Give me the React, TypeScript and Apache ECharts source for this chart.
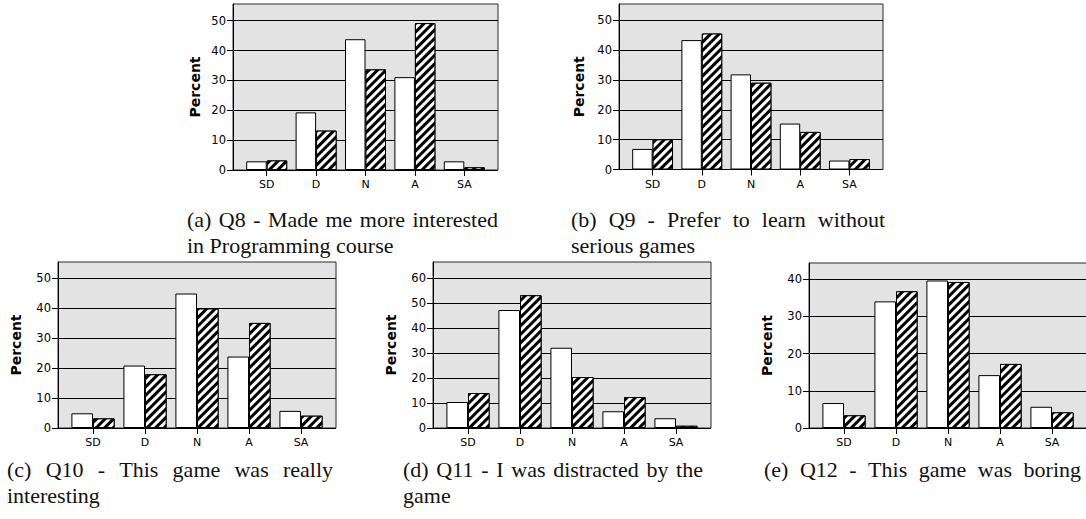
import React, { useEffect, useRef } from "react";
import * as echarts from "echarts";

// ---------- data ----------
const categories = ["SD", "D", "N", "A", "SA"];

const plainQ8 = [2.9, 19.3, 43.8, 31.1, 2.9];
const hatchQ8 = [3.2, 13.2, 33.7, 49.2, 0.9];
const plainQ9 = [6.9, 43.4, 31.9, 15.4, 3.0];
const hatchQ9 = [10.1, 45.6, 29.1, 12.6, 3.5];
const plainQ10 = [4.9, 20.8, 44.8, 23.8, 5.7];
const hatchQ10 = [3.2, 17.9, 39.8, 35.0, 4.1];
const plainQ11 = [10.4, 47.2, 32.1, 6.7, 3.9];
const hatchQ11 = [14.0, 53.1, 20.4, 12.4, 0.9];
const plainQ12 = [6.7, 34.0, 39.6, 14.2, 5.7];
const hatchQ12 = [3.4, 36.7, 39.2, 17.2, 4.2];

const ticks50 = [0, 10, 20, 30, 40, 50];
const ticks60 = [0, 10, 20, 30, 40, 50, 60];
const ticks40 = [0, 10, 20, 30, 40];

const captionA = ["(a) Q8 - Made me more interested", "in Programming course"];
const captionB = ["(b) Q9 - Prefer to learn without", "serious games"];
const captionC = ["(c) Q10 - This game was really", "interesting"];
const captionD = ["(d) Q11 - I was distracted by the", "game"];
const captionE = ["(e) Q12 - This game was boring"];

// ---------- layout ----------
const panels = [
  { plain: plainQ8, hatch: hatchQ8, ticks: ticks50, max: 55.6, left: 233, top: 4, width: 265, height: 166, nameGap: 31, caption: captionA, capLeft: 187, capRight: 498, capY: 219 },
  { plain: plainQ9, hatch: hatchQ9, ticks: ticks50, max: 55.5, left: 619, top: 4, width: 264, height: 165.5, nameGap: 33, caption: captionB, capLeft: 571, capRight: 885, capY: 219 },
  { plain: plainQ10, hatch: hatchQ10, ticks: ticks50, max: 55.3, left: 58, top: 262, width: 278, height: 166, nameGap: 35, caption: captionC, capLeft: 7, capRight: 333, capY: 469 },
  { plain: plainQ11, hatch: hatchQ11, ticks: ticks60, max: 66.4, left: 433, top: 262, width: 278, height: 166, nameGap: 35, caption: captionD, capLeft: 403, capRight: 703, capY: 469 },
  { plain: plainQ12, hatch: hatchQ12, ticks: ticks40, max: 44.3, left: 809, top: 263, width: 278, height: 165, nameGap: 35, caption: captionE, capLeft: 764, capRight: 1081, capY: 469 },
];

const INSET = 9;
const CAP_FS = 22;
const CAP_LH = 26;
const CAP_FAMILY = "'Liberation Serif', 'Times New Roman', serif";
const SANS = "'DejaVu Sans', sans-serif";

function captionElements(lines: string[], left: number, right: number, y: number) {
  const canvas = document.createElement("canvas");
  const ctx = canvas.getContext("2d")!;
  ctx.font = `${CAP_FS}px ${CAP_FAMILY}`;
  const els: any[] = [];
  lines.forEach((line, li) => {
    const ly = y + li * CAP_LH;
    const justify = li === 0;
    const style = { fontSize: CAP_FS, fontFamily: CAP_FAMILY, fill: "#111", verticalAlign: "middle", align: "left" };
    if (!justify) {
      els.push({ type: "text", x: left, y: ly, style: { ...style, text: line } });
      return;
    }
    const words = line.split(" ");
    const widths = words.map((w) => ctx.measureText(w).width);
    const total = widths.reduce((a, b) => a + b, 0);
    const gap = (right - left - total) / (words.length - 1);
    let x = left;
    words.forEach((w, k) => {
      els.push({ type: "text", x, y: ly, style: { ...style, text: w } });
      x += widths[k] + gap;
    });
  });
  return els;
}

export default function App() {
  const ref = useRef<HTMLDivElement>(null);
  useEffect(() => {
    document.body.style.margin = "0";
    const chart = echarts.init(ref.current!, undefined, { renderer: "svg" });
    const grid: any[] = [];
    const xAxis: any[] = [];
    const yAxis: any[] = [];
    const series: any[] = [];
    const graphic: any[] = [];
    panels.forEach((p, i) => {
      const f = i * 2;
      const d = i * 2 + 1;
      grid.push({
        left: p.left, top: p.top, width: p.width, height: p.height,
        show: true, backgroundColor: "#e3e3e3", borderColor: "#2b2b2b", borderWidth: 1,
        containLabel: false, outerBoundsMode: "none",
      });
      grid.push({
        left: p.left + INSET, top: p.top, width: p.width - 2 * INSET, height: p.height,
        containLabel: false, outerBoundsMode: "none",
      });
      xAxis.push({ type: "value", gridIndex: f, show: false, min: 0, max: 1 });
      xAxis.push({
        type: "category", gridIndex: d, data: categories,
        axisLine: { show: false },
        axisTick: { show: true, alignWithLabel: true, length: 6, lineStyle: { color: "#000", width: 1 } },
        axisLabel: { margin: 9, fontSize: 11, color: "#000", fontFamily: SANS },
        splitLine: { show: false },
      });
      yAxis.push({
        type: "value", gridIndex: f, min: 0, max: p.max, interval: 10,
        axisLine: { show: true, lineStyle: { color: "#000", width: 1 } },
        axisTick: { show: true, length: 6, customValues: p.ticks, lineStyle: { color: "#000", width: 1 } },
        axisLabel: { customValues: p.ticks, margin: 7, fontSize: 11.5, color: "#000", fontFamily: SANS },
        splitLine: { show: true, lineStyle: { color: "#000", width: 1 } },
        name: "Percent", nameLocation: "middle", nameGap: p.nameGap,
        nameTextStyle: { fontSize: 14, fontWeight: "bold", color: "#000", fontFamily: SANS },
      });
      yAxis.push({ type: "value", gridIndex: d, min: 0, max: p.max, show: false });
      series.push({
        type: "bar", xAxisIndex: d, yAxisIndex: d, data: p.plain,
        barGap: "0%", barCategoryGap: "17%",
        itemStyle: { color: "#fff", borderColor: "#000", borderWidth: 1 },
      });
      series.push({
        type: "bar", xAxisIndex: d, yAxisIndex: d, data: p.hatch,
        barGap: "0%", barCategoryGap: "17%",
        itemStyle: {
          color: "#000", borderColor: "#000", borderWidth: 1,
          decal: {
            symbol: "rect", symbolSize: 1, color: "#fff",
            dashArrayX: [1, 0], dashArrayY: [2.4, 2.8], rotation: -Math.PI / 4,
          },
        },
      });
      graphic.push(...captionElements(p.caption, p.capLeft, p.capRight, p.capY));
    });
    chart.setOption({
      animation: false,
      grid, xAxis, yAxis, series, graphic,
    });
    return () => chart.dispose();
  }, []);
  return <div ref={ref} style={{ width: 1086, height: 519 }} />;
}
